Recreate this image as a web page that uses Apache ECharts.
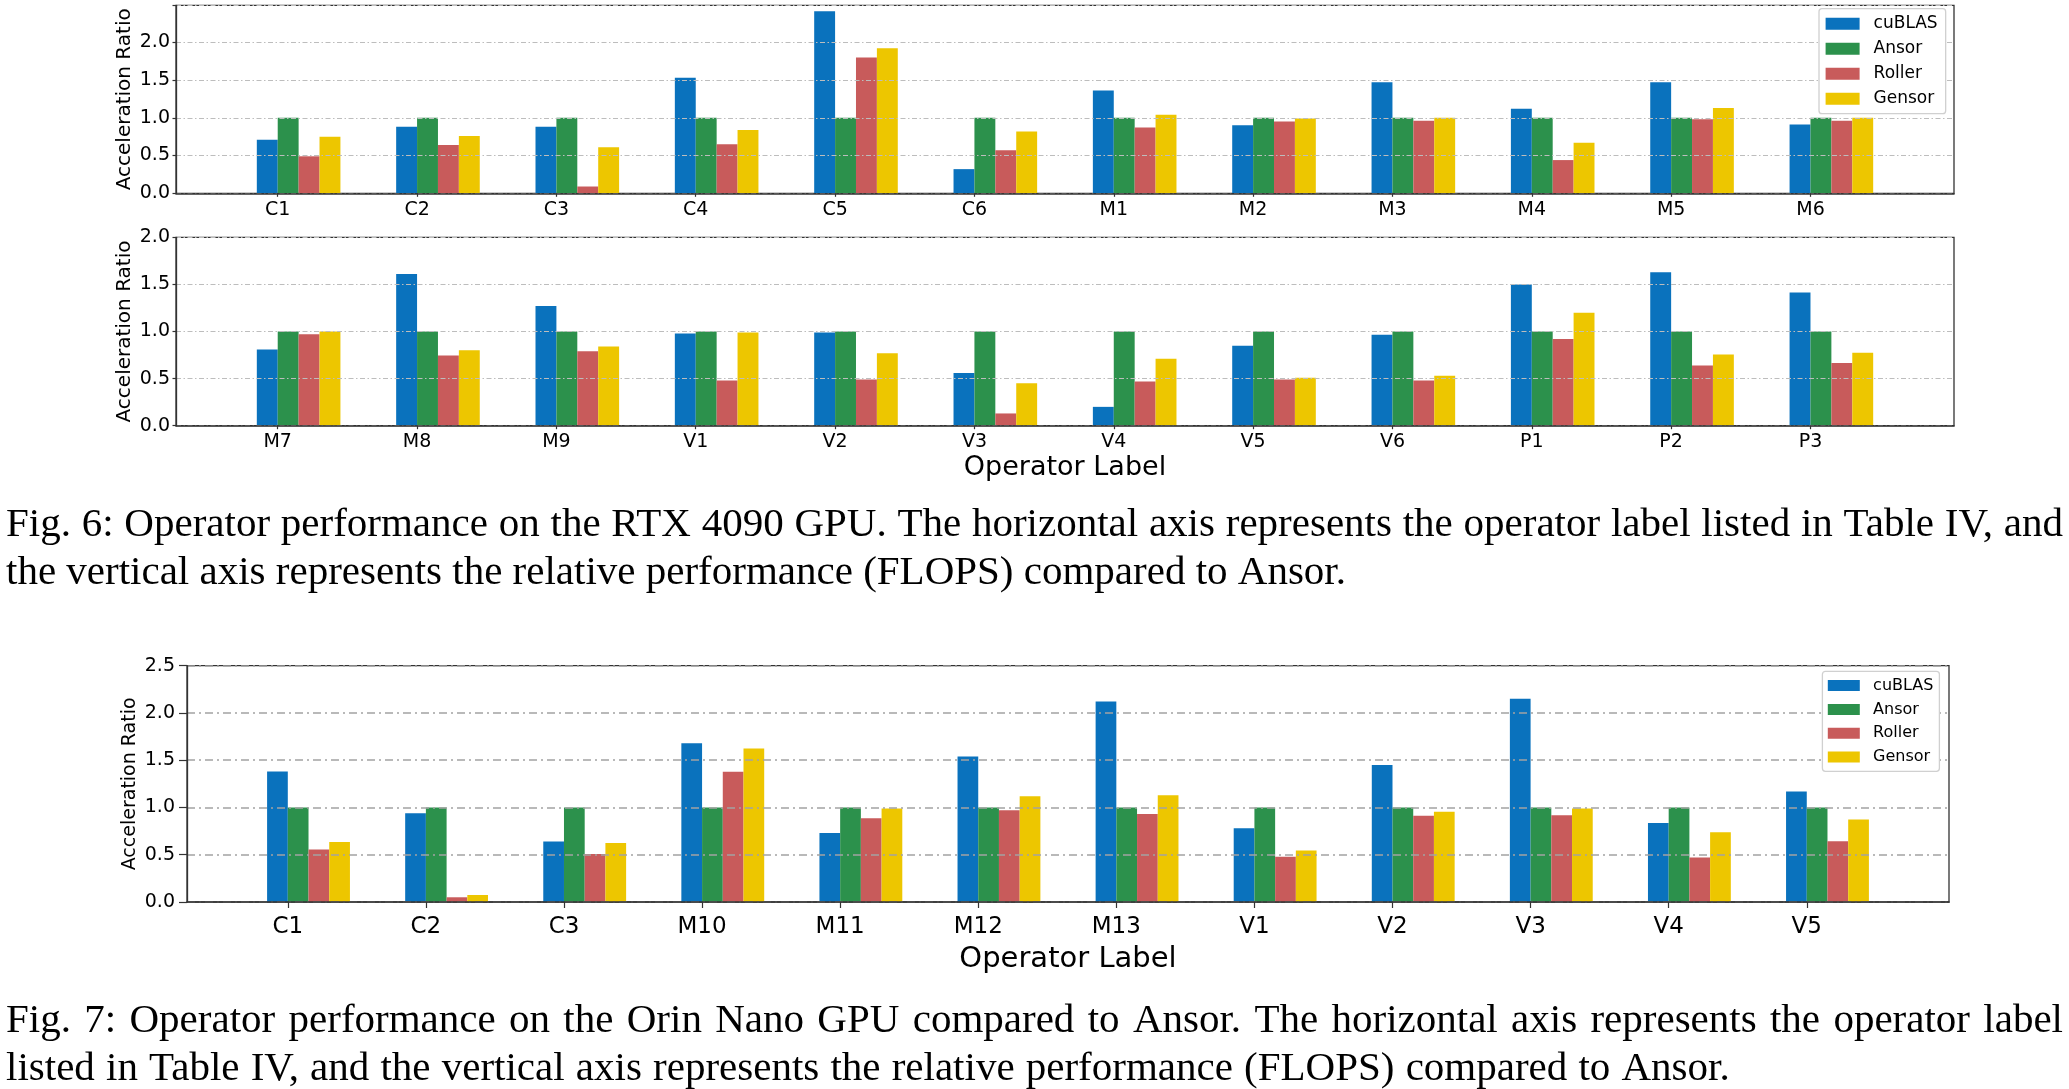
<!DOCTYPE html>
<html>
<head>
<meta charset="utf-8">
<script src="https://cdn.jsdelivr.net/npm/echarts@6.0.0/dist/echarts.min.js"></script>
<style>
  html, body { margin: 0; padding: 0; background: #ffffff; }
  #chart { width: 2069px; height: 1089px; }
</style>
</head>
<body>
<div id="chart"></div>
<script>
// ---------------- data ----------------
const seriesNames = ['cuBLAS', 'Ansor', 'Roller', 'Gensor'];

// Fig. 6 (top panel)
const categories1 = ['C1', 'C2', 'C3', 'C4', 'C5', 'C6', 'M1', 'M2', 'M3', 'M4', 'M5', 'M6'];
const cublas1 = [0.71, 0.88, 0.88, 1.53, 2.41, 0.32, 1.36, 0.90, 1.47, 1.12, 1.47, 0.91];
const ansor1  = [1.00, 1.00, 1.00, 1.00, 1.00, 1.00, 1.00, 1.00, 1.00, 1.00, 1.00, 1.00];
const roller1 = [0.49, 0.64, 0.09, 0.65, 1.80, 0.57, 0.87, 0.95, 0.96, 0.44, 0.98, 0.96];
const gensor1 = [0.75, 0.76, 0.61, 0.84, 1.92, 0.82, 1.04, 0.99, 1.00, 0.67, 1.13, 1.00];

// Fig. 6 (bottom panel)
const categories2 = ['M7', 'M8', 'M9', 'V1', 'V2', 'V3', 'V4', 'V5', 'V6', 'P1', 'P2', 'P3'];
const cublas2 = [0.81, 1.61, 1.27, 0.98, 0.99, 0.56, 0.20, 0.85, 0.965, 1.50, 1.63, 1.415];
const ansor2  = [1.00, 1.00, 1.00, 1.00, 1.00, 1.00, 1.00, 1.00, 1.00, 1.00, 1.00, 1.00];
const roller2 = [0.97, 0.745, 0.79, 0.48, 0.49, 0.13, 0.47, 0.49, 0.48, 0.92, 0.64, 0.665];
const gensor2 = [1.00, 0.80, 0.84, 0.99, 0.77, 0.45, 0.71, 0.51, 0.53, 1.20, 0.755, 0.775];

// Fig. 7
const categories3 = ['C1', 'C2', 'C3', 'M10', 'M11', 'M12', 'M13', 'V1', 'V2', 'V3', 'V4', 'V5'];
const cublas3 = [1.38, 0.94, 0.64, 1.68, 0.73, 1.54, 2.12, 0.78, 1.45, 2.15, 0.835, 1.17];
const ansor3  = [1.00, 1.00, 1.00, 1.00, 1.00, 1.00, 1.00, 1.00, 1.00, 1.00, 1.00, 1.00];
const roller3 = [0.556, 0.05, 0.507, 1.377, 0.887, 0.972, 0.93, 0.479, 0.912, 0.919, 0.472, 0.644];
const gensor3 = [0.634, 0.074, 0.623, 1.623, 0.99, 1.12, 1.13, 0.546, 0.954, 0.99, 0.739, 0.873];

const yTicks = [0, 0.5, 1.0, 1.5, 2.0, 2.5];
const yAxisTitle = 'Acceleration Ratio';
const xAxisTitle = 'Operator Label';

const caption6 = [
  'Fig. 6: Operator performance on the RTX 4090 GPU. The horizontal axis represents the operator label listed in Table IV, and',
  'the vertical axis represents the relative performance (FLOPS) compared to Ansor.'
];
const caption7 = [
  'Fig. 7: Operator performance on the Orin Nano GPU compared to Ansor. The horizontal axis represents the operator label',
  'listed in Table IV, and the vertical axis represents the relative performance (FLOPS) compared to Ansor.'
];

// ---------------- styling / layout ----------------
const COLORS = ['#0A72BD', '#2C914C', '#C85B5B', '#EDC600'];
const SANS = "'DejaVu Sans', sans-serif";
const SERIF = "'Liberation Serif', 'Times New Roman', serif";
const X_MIN = -0.73, X_MAX = 12.03;   // matplotlib-like x limits
const BAR_FRAC = 0.15;                // bar width in category units
const GROUP_SHIFT = 0.15;             // group centre offset from tick

const panels = [
  { cats: categories1, vals: [cublas1, ansor1, roller1, gensor1], yMax: 2.49,
    grid: { left: 176, top: 5.3, width: 1778, height: 188 },
    xFont: 19, yFont: 19, nameFont: 20, yNameGap: 41, xTickLen: 3.5, yTickLen: 3.5,
    xMargin: 7, yMargin: 6, gridColor: '#bdbdbd', gridWidth: 1, dash: [5, 2.5, 1.5, 2.5],
    xName: '', xNameFont: 27, xNameGap: 29 },
  { cats: categories2, vals: [cublas2, ansor2, roller2, gensor2], yMax: 2.0,
    grid: { left: 176, top: 237.3, width: 1778, height: 188.4 },
    xFont: 19, yFont: 19, nameFont: 20, yNameGap: 41, xTickLen: 3.5, yTickLen: 3.5,
    xMargin: 7, yMargin: 6, gridColor: '#bdbdbd', gridWidth: 1, dash: [5, 2.5, 1.5, 2.5],
    xName: xAxisTitle, xNameFont: 27, xNameGap: 29 },
  { cats: categories3, vals: [cublas3, ansor3, roller3, gensor3], yMax: 2.5,
    grid: { left: 187, top: 665.7, width: 1762, height: 236.3 },
    xFont: 23, yFont: 19, nameFont: 19, yNameGap: 47.5, xTickLen: 6, yTickLen: 8,
    xMargin: 13.5, yMargin: 12, gridColor: '#a2a2a2', gridWidth: 1.6, dash: [8, 4, 2, 4],
    xName: xAxisTitle, xNameFont: 29, xNameGap: 43 }
];

const grids = [], xAxes = [], yAxes = [], series = [];
panels.forEach((p, k) => {
  grids.push(Object.assign({ containLabel: false, outerBoundsMode: 'none', show: true,
    borderColor: '#333', borderWidth: 1.3, backgroundColor: 'transparent' }, p.grid));
  const idx = p.cats.map((_, i) => i);
  xAxes.push({
    type: 'value', gridIndex: k, min: X_MIN, max: X_MAX, z: 5,
    name: p.xName, nameLocation: 'middle', nameGap: p.xNameGap, nameMoveOverlap: false,
    nameTextStyle: { fontFamily: SANS, fontSize: p.xNameFont, color: '#000' },
    axisLine: { show: true, onZero: false, lineStyle: { color: '#333', width: 1.6 } },
    axisTick: { show: true, length: p.xTickLen, customValues: idx, lineStyle: { color: '#333', width: 1.2 } },
    axisLabel: { show: true, customValues: idx, margin: p.xMargin, fontFamily: SANS, fontSize: p.xFont, color: '#000',
      formatter: v => p.cats[Math.round(v)] },
    splitLine: { show: false }
  });
  yAxes.push({
    type: 'value', gridIndex: k, min: 0, max: p.yMax, interval: 0.5, z: 5,
    name: yAxisTitle, nameLocation: 'middle', nameRotate: 90, nameGap: p.yNameGap, nameMoveOverlap: false,
    nameTextStyle: { fontFamily: SANS, fontSize: p.nameFont, color: '#000' },
    axisLine: { show: true, onZero: false, lineStyle: { color: '#333', width: 1.3 } },
    axisTick: { show: true, length: p.yTickLen, lineStyle: { color: '#333', width: 1.2 } },
    axisLabel: { show: true, margin: p.yMargin, fontFamily: SANS, fontSize: p.yFont, color: '#000',
      formatter: v => (yTicks.some(t => Math.abs(t - v) < 1e-9) ? v.toFixed(1) : '') },
    splitLine: { show: true, lineStyle: { color: p.gridColor, width: p.gridWidth, type: p.dash } }
  });
  const unitPx = p.grid.width / (X_MAX - X_MIN);
  seriesNames.forEach((name, s) => {
    series.push({
      name: name, type: 'bar', xAxisIndex: k, yAxisIndex: k,
      barWidth: BAR_FRAC * unitPx, barGap: '0%',
      itemStyle: { color: COLORS[s] },
      emphasis: { disabled: true },
      data: p.vals[s].map((v, i) => [i + GROUP_SHIFT, v])
    });
  });
});

// ---------------- captions (justified like LaTeX) ----------------
const CAP_SIZE = 41;
const CAP_FONT = CAP_SIZE + "px 'Liberation Serif'";
const measureCtx = document.createElement('canvas').getContext('2d');
function captionLine(text, x0, x1, centerY, justify, spaceScale) {
  measureCtx.font = CAP_FONT;
  const words = text.split(' ');
  const widths = words.map(w => measureCtx.measureText(w).width);
  const total = widths.reduce((a, b) => a + b, 0);
  const gap = justify ? (x1 - x0 - total) / (words.length - 1) : measureCtx.measureText(' ').width * spaceScale;
  const els = [];
  let x = x0;
  words.forEach((w, i) => {
    els.push({ type: 'text', x: x, y: centerY, silent: true,
      style: { text: w, fontFamily: SERIF, fontSize: CAP_SIZE, fill: '#000', align: 'left', verticalAlign: 'middle' } });
    x += widths[i] + gap;
  });
  return els;
}
const graphics = [].concat(
  captionLine(caption6[0], 6, 2063, 525, true, 1),
  captionLine(caption6[1], 6, 2063, 573, false, 1),
  captionLine(caption7[0], 6, 2063, 1021, true, 1),
  captionLine(caption7[1], 6, 2063, 1069, false, 1.09)
);

const chart = echarts.init(document.getElementById('chart'), null, { renderer: 'canvas' });
chart.setOption({
  animation: false,
  backgroundColor: '#ffffff',
  textStyle: { fontFamily: SANS },
  grid: grids,
  xAxis: xAxes,
  yAxis: yAxes,
  legend: [
    { data: seriesNames, orient: 'vertical', left: 1819, top: 8.7, icon: 'rect',
      itemWidth: 34, itemHeight: 12, itemGap: 8, padding: [6.5, 8, 6.5, 6.6],
      backgroundColor: '#ffffff', borderColor: '#d0d0d0', borderWidth: 1.3, borderRadius: 3,
      selectedMode: false, z: 10,
      textStyle: { fontFamily: SANS, fontSize: 17, lineHeight: 17, color: '#000', padding: [0, 0, 0, 9] } },
    { data: seriesNames, orient: 'vertical', left: 1822.4, top: 671.3, icon: 'rect',
      itemWidth: 32, itemHeight: 11, itemGap: 7.8, padding: [6.3, 6, 6.3, 5.4],
      backgroundColor: '#ffffff', borderColor: '#d0d0d0', borderWidth: 1.3, borderRadius: 3,
      selectedMode: false, z: 10,
      textStyle: { fontFamily: SANS, fontSize: 16, lineHeight: 16, color: '#000', padding: [0, 0, 0, 8.3] } }
  ],
  series: series,
  graphic: graphics
});
</script>
</body>
</html>
